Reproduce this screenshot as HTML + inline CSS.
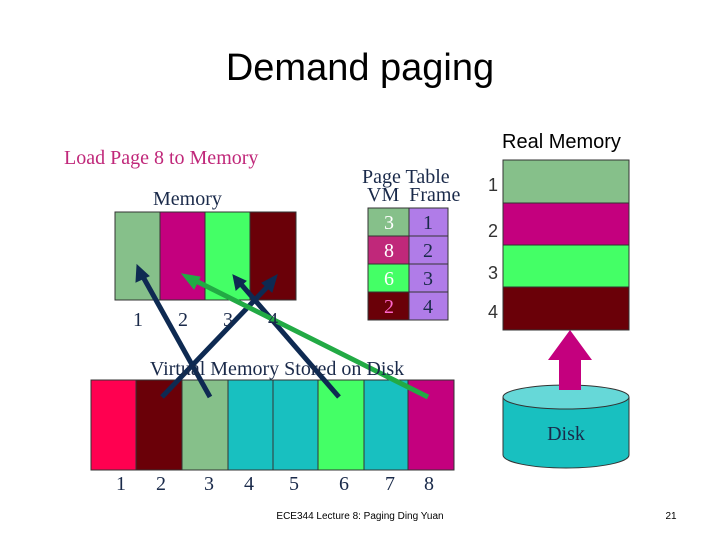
<!DOCTYPE html>
<html><head><meta charset="utf-8"><style>
body{margin:0;width:720px;height:540px;background:#fff;overflow:hidden;position:relative;font-family:"Liberation Serif",serif}
.a{position:absolute}
.s{font-family:"Liberation Sans",sans-serif}
</style></head><body>
<div class="a s" style="left:0;width:720px;top:47px;text-align:center;font-size:38px;color:#000">Demand paging</div>
<div class="a s" style="left:502px;top:131px;font-size:20px">Real Memory</div>
<div class="a" style="left:64px;top:147px;font-size:20px;color:#c0287a">Load Page 8 to Memory</div>
<div class="a" style="left:153px;top:188px;font-size:20px;color:#1a2a4a">Memory</div>
<div class="a" style="left:362px;top:168px;font-size:20px;color:#1a2a4a;line-height:18px">Page Table<br>&nbsp;VM&nbsp; Frame</div>
<svg class="a" style="left:0;top:0" width="720" height="540">
<g stroke="#333" stroke-width="1">
<rect x="115" y="212" width="45" height="88" fill="#86c08a"/>
<rect x="160" y="212" width="45" height="88" fill="#c4007e"/>
<rect x="205" y="212" width="45" height="88" fill="#44ff66"/>
<rect x="250" y="212" width="46" height="88" fill="#6a0008"/>
<rect x="368" y="208" width="41" height="28" fill="#86c08a"/>
<rect x="368" y="236" width="41" height="28" fill="#c0287a"/>
<rect x="368" y="264" width="41" height="28" fill="#44ff66"/>
<rect x="368" y="292" width="41" height="28" fill="#6a0008"/>
<rect x="409" y="208" width="39" height="112" fill="#b07ce8"/>
<line x1="409" y1="236" x2="448" y2="236"/><line x1="409" y1="264" x2="448" y2="264"/><line x1="409" y1="292" x2="448" y2="292"/>
<rect x="503" y="160" width="126" height="43" fill="#86c08a"/>
<rect x="503" y="203" width="126" height="42" fill="#c4007e"/>
<rect x="503" y="245" width="126" height="42" fill="#44ff66"/>
<rect x="503" y="287" width="126" height="43" fill="#6a0008"/>
<rect x="91" y="380" width="45" height="90" fill="#ff0050"/>
<rect x="136" y="380" width="46" height="90" fill="#6a0008"/>
<rect x="182" y="380" width="46" height="90" fill="#86c08a"/>
<rect x="228" y="380" width="45" height="90" fill="#18c0c0"/>
<rect x="273" y="380" width="45" height="90" fill="#18c0c0"/>
<rect x="318" y="380" width="46" height="90" fill="#44ff66"/>
<rect x="364" y="380" width="44" height="90" fill="#18c0c0"/>
<rect x="408" y="380" width="46" height="90" fill="#c4007e"/>
<path d="M503 397 L503 455 A63 13 0 0 0 629 455 L629 397" fill="#18c0c0"/>
<ellipse cx="566" cy="397" rx="63" ry="12" fill="#66d8d8"/>
</g>
<polygon points="559,390 559,360 548,360 570,330 592,360 581,360 581,390" fill="#c4007e"/>
<g stroke="#0e2a52" stroke-width="5" fill="#0e2a52">
<line x1="162" y1="397" x2="270" y2="284"/><polygon points="277,275 262,283 272,292" stroke-width="1"/>
<line x1="210" y1="397" x2="142" y2="275"/><polygon points="137,265 136,282 149,276" stroke-width="1"/>
<line x1="339" y1="397" x2="240" y2="283"/><polygon points="233,275 236,290 246,281" stroke-width="1"/>
</g>
<g stroke="#22aa44" stroke-width="5" fill="#22aa44">
<line x1="428" y1="397" x2="192" y2="279"/><polygon points="182,274 194,289 200,277" stroke-width="1"/>
</g>
<g font-family="Liberation Serif" font-size="20" text-anchor="middle">
<text x="389" y="229" fill="#fff">3</text><text x="428" y="229" fill="#1a2a4a">1</text>
<text x="389" y="257" fill="#fff">8</text><text x="428" y="257" fill="#1a2a4a">2</text>
<text x="389" y="285" fill="#fff">6</text><text x="428" y="285" fill="#1a2a4a">3</text>
<text x="389" y="313" fill="#ff66cc">2</text><text x="428" y="313" fill="#1a2a4a">4</text>
<g fill="#1a2a4a"><text x="138" y="326">1</text><text x="183" y="326">2</text><text x="228" y="326">3</text><text x="273" y="326">4</text>
<text x="121" y="490">1</text><text x="161" y="490">2</text><text x="209" y="490">3</text><text x="249" y="490">4</text><text x="294" y="490">5</text><text x="344" y="490">6</text><text x="390" y="490">7</text><text x="429" y="490">8</text>
<text x="566" y="440">Disk</text>
<text x="277" y="375">Virtual Memory Stored on Disk</text></g>
</g>
<g font-family="Liberation Sans" font-size="18" fill="#333" text-anchor="middle">
<text x="493" y="191">1</text><text x="493" y="237">2</text><text x="493" y="279">3</text><text x="493" y="318">4</text>
</g>
<text x="360" y="519" font-family="Liberation Sans" font-size="10" text-anchor="middle">ECE344 Lecture 8: Paging Ding Yuan</text>
<text x="671" y="519" font-family="Liberation Sans" font-size="10" text-anchor="middle">21</text>
</svg>
</body></html>
